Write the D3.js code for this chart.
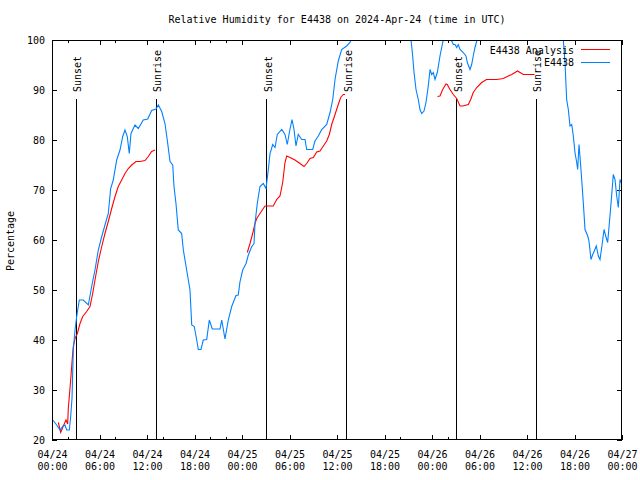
<!DOCTYPE html>
<html>
<head>
<meta charset="utf-8">
<script src="https://cdn.jsdelivr.net/npm/d3@7"></script>
<style>
  html, body { margin: 0; padding: 0; background: #fff; }
  svg { display: block; }
  text { font-family: "DejaVu Sans Mono", "Liberation Mono", monospace; font-size: 10px; fill: #000; }
</style>
</head>
<body>
<svg id="chart" width="640" height="480"></svg>
<script>
// ---- Data (hours since 2024-04-24 00:00 UTC) ----
const stationHours = [0.09,0.59,1.01,1.35,1.64,1.86,2.19,2.36,2.53,2.69,2.91,3.12,3.45,3.95,4.59,5.01,5.43,5.85,6.28,6.69,7.11,7.41,7.74,8.17,8.59,8.93,9.22,9.51,9.76,9.98,10.48,10.9,11.53,12.09,12.59,13.14,13.43,13.86,14.27,14.56,14.91,15.25,15.41,15.66,15.95,16.38,16.59,17.01,17.43,17.65,17.97,18.28,18.48,18.82,19.11,19.54,19.87,20.25,21.22,21.44,21.85,22.27,22.7,23.24,23.53,23.75,24.09,24.51,24.8,25.23,25.52,25.64,25.93,26.27,26.69,27.03,27.32,27.54,27.88,28.17,28.46,29.02,29.43,29.72,29.98,30.32,30.57,30.82,31.11,31.54,31.96,32.17,32.93,33.22,33.64,34.07,34.7,35.12,35.46,35.75,36.16,36.59,37.22,37.64,37.86,39.0,41.0,43.0,44.8,45.35,45.56,45.73,45.98,46.27,46.48,46.7,46.99,47.24,47.53,47.75,47.96,48.16,48.38,48.67,49.01,49.35,49.52,49.86,50.15,50.49,50.69,50.91,51.12,51.32,51.54,51.95,52.29,52.46,52.8,53.01,53.21,53.43,53.65,53.85,56.0,59.0,62.0,64.0,64.59,64.8,65.01,65.22,65.43,65.65,65.85,66.06,66.28,66.4,66.57,66.69,66.91,67.11,67.33,67.67,67.83,68.08,68.3,68.5,68.75,69.01,69.22,69.44,69.73,69.94,70.19,70.48,70.69,70.9,71.12,71.33,71.54,71.75,71.87];
const stationValues = [24,23,22,22.7,23,22,22,24.7,28.4,38,42,44.7,48,48,47,50.7,54,58,60.7,63,65.3,70.3,72,76,78,80.7,82,80.7,77.3,81.3,83,82.3,84,84.2,85.9,86.2,87,85.7,83.3,80,75.7,75,70.7,67.3,62,61.3,58,54,50,43,42.7,40,38.1,38.1,40,40.1,44,42.2,42.2,44,40.2,44,46.7,48.9,49,51.7,54,55.3,57,58.7,59.3,63.3,67.3,70.7,71.3,70.3,74,77.3,79.1,78.5,81.1,82.1,81.1,79.1,81.5,84.1,82.1,78.8,81.1,80.1,80.1,78.1,78.1,79.8,80.8,82.1,83.1,85.5,88.1,92.1,95.8,98.1,98.8,99.5,100.3,103,105,104,101,100,96.8,93.5,90.1,88.1,86.1,85.3,85.8,87.5,90.8,94.1,93.1,93.5,92.1,93.5,96.8,99.5,100.6,100.1,100.5,99.8,99.1,99.1,98.5,99.1,98.1,97.5,96.8,95.5,94.1,95.1,96.8,98.5,99.8,100.7,103,105,104,101.5,100,95.5,88.1,86.1,82.8,83.1,80.8,77.5,75.5,74.1,79.1,76.8,72.1,67.5,62.1,60.8,59.8,56.1,57.1,57.8,58.8,56.8,56.1,58.5,62.1,60.8,59.5,64.8,68.8,73.1,72.1,68.8,66.5,72.1,71.5];

// Analysis series; null marks a gap
const analysisHours = [0.8,1.1,1.43,1.77,1.98,2.06,2.36,2.56,2.69,2.91,3.2,3.54,3.88,4.38,4.8,5.14,5.43,5.85,6.28,6.69,7.11,7.54,7.96,8.37,8.8,9.22,9.64,10.07,10.61,11.12,11.75,12.16,12.59,13.01,18.0,24.67,25.01,25.35,25.64,25.86,26.27,26.69,26.91,27.95,28.38,28.8,29.14,29.43,29.65,30.06,30.69,31.33,31.83,32.17,32.59,33.01,33.44,33.85,34.27,34.7,35.03,35.33,35.75,36.16,36.47,36.8,37.01,42.0,48.69,49.01,49.35,49.77,49.93,50.27,50.69,51.12,51.54,51.88,52.59,52.89,53.21,53.65,54.28,54.88,56.17,57.01,57.64,58.07,58.8,59.53,60.95];
const analysisValues = [23.5,21.5,22.8,24,23.2,26.3,32,36.3,38.7,40.3,41.3,43.3,44.7,45.7,46.7,49.3,52,55.7,58.7,61.3,63.7,66.3,68.7,70.7,72,73.3,74.3,75,75.7,75.7,75.9,76.7,77.7,78,null,57.5,59.3,61.3,63.3,64.3,65.3,66.3,66.8,66.8,68.1,68.8,71.5,75.5,76.8,76.5,76,75.3,74.7,75.3,76.3,76.5,77.6,77.8,78.8,79.8,81.1,83.1,85.1,87.1,88.5,89.1,89.1,null,88.7,88.8,90.1,91.2,91.1,90.1,89.1,88.3,86.8,86.8,87.1,88.1,89.5,90.5,91.5,92.1,92.1,92.3,92.8,93.1,93.8,93.1,93.1];

const sunHours = [3.05, 13.18, 27.1, 37.2, 51.1, 61.15];
const sunLabels = ["Sunset", "Sunrise", "Sunset", "Sunrise", "Sunset", "Sunrise"];

const yTicks = [20,30,40,50,60,70,80,90,100];
const xTickHours = [0,6,12,18,24,30,36,42,48,54,60,66,72];
const minorTickHours = [2,8,14,20,22,44,50];

const titleText = "Relative Humidity for E4438 on 2024-Apr-24 (time in UTC)";
const yLabel = "Percentage";
const seriesNames = ["E4438 Analysis", "E4438"];
const seriesColors = ["#ff0000", "#0080ff"];

// ---- Drawing ----
const base = Date.UTC(2024, 3, 24, 0, 0, 0);
const toDate = h => new Date(base + h * 3600e3);

const svg = d3.select("#chart");
const L = 52, R = 622, T = 40, B = 440;

const x = d3.scaleUtc().domain([toDate(0), toDate(72)]).range([L, R]);
const y = d3.scaleLinear().domain([20, 100]).range([B, T]);

svg.append("defs").append("clipPath").attr("id", "plotclip")
  .append("rect").attr("x", L).attr("y", T).attr("width", R - L).attr("height", B - T);

// Title
svg.append("text").attr("x", 337).attr("y", 23).attr("text-anchor", "middle").text(titleText);

// Y label
svg.append("text").attr("transform", "translate(14,241) rotate(-90)")
  .attr("text-anchor", "middle").text(yLabel);

const fmtDate = d3.utcFormat("%m/%d");
const fmtTime = d3.utcFormat("%H:%M");

// Bottom axis
const xb = svg.append("g").attr("transform", `translate(0,${B})`)
  .call(d3.axisBottom(x).tickValues(xTickHours.map(toDate)).tickSizeInner(-5).tickSizeOuter(0).tickPadding(11).tickFormat(() => ""));
xb.select(".domain").remove();
xb.selectAll(".tick text").each(function(d) {
  const t = d3.select(this);
  t.append("tspan").attr("x", 0).attr("dy", "0.71em").text(fmtDate(d));
  t.append("tspan").attr("x", 0).attr("dy", "1.2em").text(fmtTime(d));
}).attr("dy", null);

// Top axis
const xt = svg.append("g").attr("transform", `translate(0,${T})`)
  .call(d3.axisTop(x).tickValues(xTickHours.map(toDate)).tickSizeInner(-5).tickSizeOuter(0).tickFormat(() => ""));
xt.select(".domain").remove();

// Minor ticks
const minorB = svg.append("g").attr("transform", `translate(0,${B})`)
  .call(d3.axisBottom(x).tickValues(minorTickHours.map(toDate)).tickSizeInner(-3).tickSizeOuter(0).tickFormat(() => ""));
minorB.select(".domain").remove();
const minorT = svg.append("g").attr("transform", `translate(0,${T})`)
  .call(d3.axisTop(x).tickValues(minorTickHours.map(toDate)).tickSizeInner(-3).tickSizeOuter(0).tickFormat(() => ""));
minorT.select(".domain").remove();

// Left axis
const yl = svg.append("g").attr("transform", `translate(${L},0)`)
  .call(d3.axisLeft(y).tickValues(yTicks).tickSizeInner(-5).tickSizeOuter(0).tickPadding(7));
yl.select(".domain").remove();
// Right axis
const yr = svg.append("g").attr("transform", `translate(${R},0)`)
  .call(d3.axisRight(y).tickValues(yTicks).tickSizeInner(-5).tickSizeOuter(0).tickFormat(() => ""));
yr.select(".domain").remove();

svg.selectAll(".tick line").attr("stroke", "#000").attr("shape-rendering", "crispEdges");
svg.selectAll(".tick text").style("font-family", "DejaVu Sans Mono, monospace").style("font-size", "10px").attr("fill", "#000");

// Sun lines
const sunG = svg.append("g");
sunHours.forEach((h, i) => {
  const px = x(toDate(h));
  sunG.append("line").attr("x1", px).attr("x2", px).attr("y1", 99).attr("y2", B)
    .attr("stroke", "#000").attr("stroke-width", 1).attr("shape-rendering", "crispEdges");
  sunG.append("text").attr("transform", `translate(${px + 1.5},92) rotate(-90)`)
    .attr("dominant-baseline", "central").text(sunLabels[i]);
});

// Series
const plot = svg.append("g").attr("clip-path", "url(#plotclip)");
const lineGen = d3.line()
  .defined(d => d[1] !== null)
  .x(d => x(toDate(d[0]))).y(d => y(d[1]));

plot.append("path").datum(analysisHours.map((h, i) => [h, analysisValues[i]]))
  .attr("d", lineGen).attr("fill", "none").attr("stroke", seriesColors[0]).attr("stroke-width", 1.1);
plot.append("path").datum(stationHours.map((h, i) => [h, stationValues[i]]))
  .attr("d", lineGen).attr("fill", "none").attr("stroke", seriesColors[1]).attr("stroke-width", 1.1);

// Border
svg.append("rect").attr("x", L + 0.5).attr("y", T + 0.5).attr("width", R - L - 1).attr("height", B - T - 1)
  .attr("fill", "none").attr("stroke", "#000").attr("stroke-width", 1);

// Legend
seriesNames.forEach((name, i) => {
  const ly = 50 + i * 12.5;
  svg.append("text").attr("x", 574).attr("y", ly).attr("text-anchor", "end")
    .attr("dominant-baseline", "central").text(name);
  svg.append("line").attr("x1", 581).attr("x2", 610).attr("y1", ly - 0.5).attr("y2", ly - 0.5)
    .attr("stroke", seriesColors[i]).attr("stroke-width", 1).attr("shape-rendering", "crispEdges");
});
</script>
</body>
</html>
